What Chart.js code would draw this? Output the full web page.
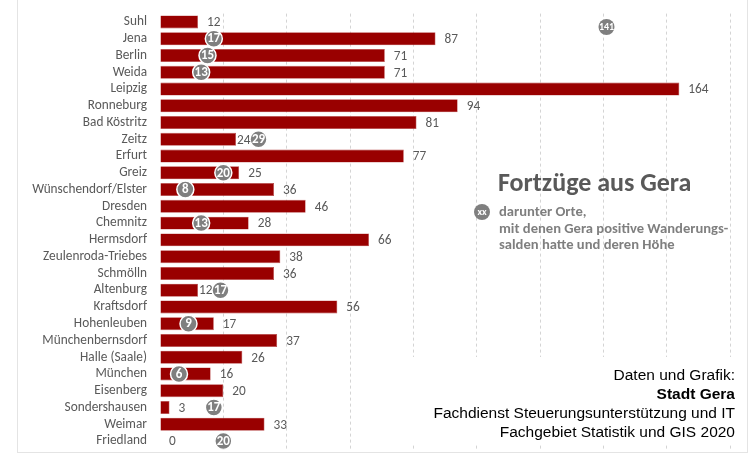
<!DOCTYPE html>
<html><head><meta charset="utf-8">
<script src="https://cdn.jsdelivr.net/npm/chart.js@4"></script>
<style>
html,body{margin:0;padding:0;background:#fff;}
#wrap{position:relative;width:756px;height:464px;overflow:hidden;}
#frame{position:absolute;left:17px;top:-2px;width:731px;height:455px;border:1px solid #e4e4e4;box-sizing:border-box;}
canvas{position:absolute;left:0;top:0;}
#title{position:absolute;left:498px;top:166px;font:bold 26px Carlito,Calibri,sans-serif;color:#595959;white-space:nowrap;line-height:32px;}
#sub{position:absolute;left:499px;top:203px;font:bold 14.6px Carlito,Calibri,sans-serif;color:#7f7f7f;line-height:16.6px;white-space:nowrap;}
#xx{position:absolute;left:474px;top:204px;width:16px;height:16px;border-radius:50%;background:#7f7f7f;color:#fff;font:bold 10px Carlito,sans-serif;text-align:center;line-height:16px;}
#src{position:absolute;left:395px;top:357px;width:340px;height:88px;background:#fff;text-align:right;font:15.5px "Liberation Sans",Arial,sans-serif;color:#000;line-height:19px;padding-top:8px;box-sizing:border-box;}
</style></head>
<body><div id="wrap">
<div id="frame"></div>
<canvas id="c" width="756" height="464"></canvas>
<div id="title">Fortzüge aus Gera</div>
<div id="xx">xx</div>
<div id="sub">darunter Orte,<br>mit denen Gera positive Wanderungs-<br>salden hatte und deren Höhe</div>
<div id="src">Daten und Grafik:<br><b>Stadt Gera</b><br>Fachdienst Steuerungsunterstützung und IT<br>Fachgebiet Statistik und GIS 2020</div>
</div>
<script>
const categories = ['Suhl','Jena','Berlin','Weida','Leipzig','Ronneburg','Bad Köstritz','Zeitz','Erfurt','Greiz','Wünschendorf/Elster','Dresden','Chemnitz','Hermsdorf','Zeulenroda-Triebes','Schmölln','Altenburg','Kraftsdorf','Hohenleuben','Münchenbernsdorf','Halle (Saale)','München','Eisenberg','Sondershausen','Weimar','Friedland'];
const fortzuege = [12,87,71,71,164,94,81,24,77,25,36,46,28,66,38,36,12,56,17,37,26,16,20,3,33,0];
const positiveSalden = [null,17,15,13,null,null,null,29,null,20,8,null,13,null,null,null,17,null,9,null,null,6,null,17,null,20];
const extraBubble = {value:141, row:0.3};

const bubbleData = [];
positiveSalden.forEach((v,i)=>{ if(v!==null) bubbleData.push({x:v,y:i,label:String(v)}); });
const extraData = [{x:extraBubble.value,y:extraBubble.row,label:String(extraBubble.value)}];

const FONT = 'Carlito, Calibri, sans-serif';
const LABEL_FONT = '13.3px ' + FONT;
const BUBBLE_R = 8.5;
const LABEL_PAD = 9;

// bar value labels; bubbles are nudged right of the label when they would collide
const labelPlugin = {
  id:'labels',
  beforeDatasetsDraw(chart){
    const ctx = chart.ctx;
    ctx.save(); ctx.font = LABEL_FONT;
    const bm = chart.getDatasetMeta(2);
    const pm = chart.getDatasetMeta(0);
    chart.$pads = fortzuege.map(()=>LABEL_PAD);
    pm.data.forEach((el,k)=>{
      const raw = bubbleData[k];
      const row = raw.y, v = fortzuege[row];
      if (raw.x <= v) return;
      const bar = bm.data[row];
      const w = ctx.measureText(String(v)).width;
      if (el.x - BUBBLE_R < bar.x + LABEL_PAD + w) {
        chart.$pads[row] = 1;
        el.x = Math.max(el.x, bar.x + 1 + w + 8);
      }
    });
    ctx.restore();
  },
  afterDatasetsDraw(chart){
    const ctx = chart.ctx;
    ctx.save();
    const bm = chart.getDatasetMeta(2);
    ctx.font = LABEL_FONT;
    ctx.fillStyle = '#595959';
    ctx.textAlign = 'left'; ctx.textBaseline = 'middle';
    bm.data.forEach((el,i)=>{
      ctx.fillText(String(fortzuege[i]), el.x + chart.$pads[i], el.y + 1);
    });
    [[0,'bold 13px ' + FONT],[1,'bold 10px ' + FONT]].forEach(([di,f])=>{
      const m = chart.getDatasetMeta(di);
      const ds = chart.data.datasets[di];
      ctx.font = f; ctx.fillStyle = '#fff'; ctx.textAlign='center'; ctx.textBaseline='middle';
      m.data.forEach((el,i)=>{ ctx.fillText(ds.data[i].label, el.x, el.y + 0.5); });
    });
    ctx.restore();
  }
};

new Chart(document.getElementById('c'), {
  type:'bar',
  data:{
    labels:categories,
    datasets:[
      {type:'scatter', data:bubbleData, xAxisID:'x', yAxisID:'y2', order:0,
       pointRadius:BUBBLE_R, pointHoverRadius:BUBBLE_R, backgroundColor:'#7f7f7f', borderColor:'#ffffff', borderWidth:1.5},
      {type:'scatter', data:extraData, xAxisID:'x', yAxisID:'y2', order:0,
       pointRadius:8, pointHoverRadius:8, backgroundColor:'#7f7f7f', borderColor:'#7f7f7f', borderWidth:0},
      {type:'bar', data:fortzuege, xAxisID:'x', yAxisID:'y', order:1, grouped:false,
       backgroundColor:'#990000', borderColor:'#b84a4a', borderWidth:0.6,
       barPercentage:0.9, categoryPercentage:0.86}
    ]
  },
  options:{
    indexAxis:'y',
    responsive:false, animation:false,
    layout:{padding:{left:0,right:26,top:13.6,bottom:14.6}},
    plugins:{legend:{display:false}, tooltip:{enabled:false}},
    scales:{
      x:{type:'linear', min:0, max:180, position:'bottom',
         ticks:{display:false, stepSize:20},
         grid:{color:(c)=> c.tick && c.tick.value === 0 ? 'rgba(0,0,0,0)' : '#d4d4d4', drawTicks:false, lineWidth:1},
         border:{display:false, dash:[3,3]},
         afterFit(s){ s.height = 0; s.paddingLeft = 0; s.paddingRight = 0; }},
      y:{type:'category', position:'left', offset:true,
         grid:{display:false, drawTicks:false, offset:true}, border:{display:false},
         ticks:{color:'#595959', font:{family:FONT, size:13.3}, padding:13, autoSkip:false},
         afterFit(s){ s.width = 160; s.paddingTop = 0; s.paddingBottom = 0; }},
      y2:{type:'linear', display:false, offset:false, min:-0.5, max:25.5, reverse:true}
    }
  },
  plugins:[labelPlugin]
});
</script>
</body></html>
